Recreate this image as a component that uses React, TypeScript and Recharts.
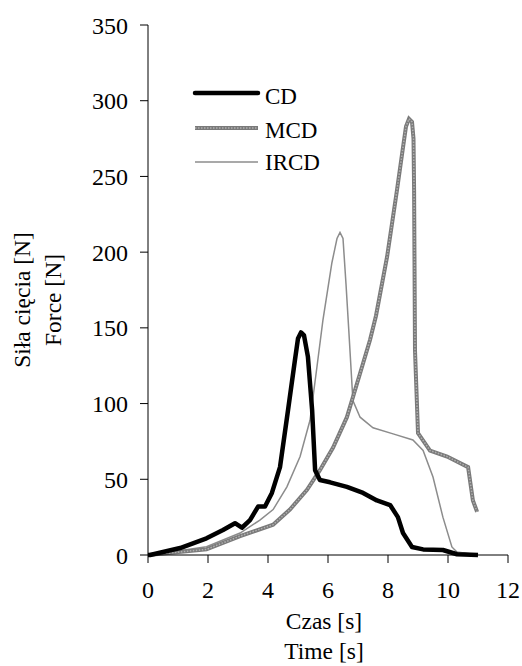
import { LineChart, Line, XAxis, YAxis, Legend } from 'recharts';

// Czas [s] / Siła cięcia [N]
const cdTime = [0, 0.07, 1.07, 1.95, 2.5, 2.9, 3.13, 3.4, 3.67, 3.9, 4.13, 4.4, 4.67, 4.9, 5.0, 5.1, 5.2, 5.33, 5.47, 5.57, 5.73, 6.07, 6.63, 7.17, 7.63, 8.07, 8.33, 8.5, 8.8, 9.17, 9.83, 10.3, 11];
const cdForce = [0, 0, 4.6, 11, 16.5, 21, 18, 23, 32, 32, 41, 58, 96, 129, 143, 147, 145, 131, 96, 56, 49.5, 48, 45, 41, 36, 33, 25, 14.5, 5.3, 3.7, 3.3, 0.5, 0];

const mcdTime = [0, 1.95, 3.07, 4.17, 4.73, 5.3, 5.73, 6.17, 6.63, 7.07, 7.4, 7.6, 7.97, 8.3, 8.47, 8.6, 8.7, 8.8, 8.85, 8.87, 8.9, 9.0, 9.4, 9.97, 10.67, 10.83, 10.97];
const mcdForce = [0, 3.7, 12.5, 20, 30, 43, 56, 71, 91, 120, 142, 158, 197, 241, 265, 283, 288, 286, 275, 241, 135, 80.5, 69, 65, 58, 36, 28.5];

const ircdTime = [0, 0.07, 1.95, 3.07, 3.73, 4.17, 4.63, 5.07, 5.4, 5.63, 5.83, 6.13, 6.3, 6.4, 6.5, 6.6, 6.7, 6.83, 7.07, 7.5, 8.17, 8.83, 9.17, 9.5, 9.83, 10.13, 10.3, 11];
const ircdForce = [0, 0, 5.5, 14.5, 23, 30, 45, 65, 89, 124, 155, 193, 209, 213, 209, 179, 146, 102, 91, 84, 80, 76, 69, 51.5, 25, 5.3, 2, 0];

const xTicks = [0, 2, 4, 6, 8, 10, 12];
const yTicks = [0, 50, 100, 150, 200, 250, 300, 350];

const toPoints = (t: number[], f: number[]) => t.map((x, i) => ({ t: x, f: f[i] }));

const cd = toPoints(cdTime, cdForce);
const mcd = toPoints(mcdTime, mcdForce);
const ircd = toPoints(ircdTime, ircdForce);

const FONT = 'Liberation Serif';
const tickStyle = { fill: '#000', fontSize: 24, fontFamily: FONT };

const LegendBox = () => (
  <svg width={160} height={110} fontFamily={FONT} fontSize={23}>
    <line x1={5} x2={68} y1={18} y2={18} stroke="#000" strokeWidth={4.5} strokeLinecap="round" />
    <text x={75} y={21} dominantBaseline="central" fill="#000">CD</text>
    <line x1={5} x2={68} y1={53} y2={53} stroke="#7a7a7a" strokeWidth={4} />
    <line x1={5} x2={68} y1={53} y2={53} stroke="#b0b0b0" strokeWidth={1.5} strokeDasharray="1.5 1.5" />
    <text x={75} y={55} dominantBaseline="central" fill="#000">MCD</text>
    <line x1={5} x2={68} y1={87} y2={87} stroke="#8c8c8c" strokeWidth={1.5} />
    <text x={75} y={87} dominantBaseline="central" fill="#000">IRCD</text>
  </svg>
);

export default function App() {
  return (
    <div style={{ position: 'absolute', left: 0, top: 0, fontFamily: FONT }}>
      <LineChart width={522} height={666} margin={{ top: 25, right: 14, bottom: 0, left: 0 }}>
        <XAxis
          type="number"
          dataKey="t"
          domain={[0, 12]}
          ticks={xTicks}
          allowDuplicatedCategory={false}
          height={111}
          tickSize={8}
          tickMargin={18}
          tick={tickStyle}
          axisLine={{ stroke: '#000' }}
          tickLine={{ stroke: '#000' }}
          label={{
            content: () => (
              <g fontFamily={FONT} fontSize={23.5}>
                <text x={324} y={621} textAnchor="middle" dominantBaseline="central" fill="#000">Czas [s]</text>
                <text x={324} y={651} textAnchor="middle" dominantBaseline="central" fill="#000">Time [s]</text>
              </g>
            ),
          }}
        />
        <YAxis
          type="number"
          dataKey="f"
          domain={[0, 350]}
          ticks={yTicks}
          width={148}
          tickSize={8}
          tickMargin={12}
          tick={tickStyle}
          axisLine={{ stroke: '#000' }}
          tickLine={{ stroke: '#000' }}
          label={{
            content: () => (
              <g fontFamily={FONT} fontSize={23.5}>
                <text x={22} y={300} transform="rotate(-90 22 300)" textAnchor="middle" dominantBaseline="central" fill="#000">Siła cięcia [N]</text>
                <text x={53} y={300} transform="rotate(-90 53 300)" textAnchor="middle" dominantBaseline="central" fill="#000">Force [N]</text>
              </g>
            ),
          }}
        />
        <Legend
          layout="horizontal"
          verticalAlign="middle"
          content={<LegendBox />}
          wrapperStyle={{ position: 'absolute', left: 190, top: 75, width: 160, height: 110 }}
        />
        <Line data={ircd} dataKey="f" type="linear" stroke="#8c8c8c" strokeWidth={1.5} dot={false} isAnimationActive={false} />
        <Line data={mcd} dataKey="f" type="linear" stroke="#7a7a7a" strokeWidth={4} dot={false} isAnimationActive={false} />
        <Line data={mcd} dataKey="f" type="linear" stroke="#b0b0b0" strokeWidth={1.5} strokeDasharray="1.5 1.5" dot={false} isAnimationActive={false} legendType="none" />
        <Line data={cd} dataKey="f" type="linear" stroke="#000" strokeWidth={4.5} strokeLinejoin="round" dot={false} isAnimationActive={false} />
      </LineChart>
    </div>
  );
}
